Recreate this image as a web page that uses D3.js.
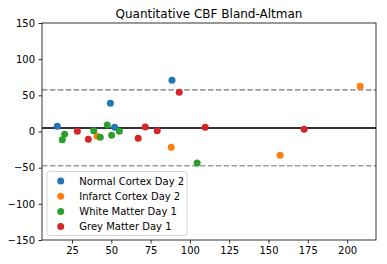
<!DOCTYPE html>
<html>
<head>
<meta charset="utf-8">
<script src="https://cdn.jsdelivr.net/npm/d3@7"></script>
<style>
  body { margin: 0; background: #fff; }
  text { font-family: "DejaVu Sans", sans-serif; }
</style>
</head>
<body>
<div id="chart"></div>
<script>
// series: [mean, difference]
const normalCortex = [[15.6, 7.2], [49.4, 39], [52.1, 5.8], [88.6, 71]]
const infarctCortex = [[41.0, -6.6], [88.1, -21.8], [157.4, -32.9], [208.3, 62.5]]
const whiteMatter = [[18.8, -11.3], [20.3, -3.9], [38.8, 1.1], [43.0, -8.0], [47.4, 9.0], [50.2, -5.3], [55.1, 0.3], [104.6, -43.6]]
const greyMatter = [[28.4, 0.3], [35.4, -10.8], [67.1, -9.4], [71.6, 6.2], [79.2, 1.1], [93.2, 54.2], [109.7, 5.8], [172.7, 3.0]]

const seriesNames = ["Normal Cortex Day 2", "Infarct Cortex Day 2", "White Matter Day 1", "Grey Matter Day 1"]
const colors = ["#1f77b4", "#ff7f0e", "#2ca02c", "#d62728"]

const meanDiff = 5
const upperLimit = 57.6
const lowerLimit = -47.4

const xTicks = [25, 50, 75, 100, 125, 150, 175, 200]
const yTicks = [-150, -100, -50, 0, 50, 100, 150]

const W = 387, H = 264
const margin = { top: 23, right: 11, bottom: 24, left: 42 }
const width = W - margin.left - margin.right,
    height = H - margin.top - margin.bottom

const svg = d3.select("#chart").append("svg")
    .attr("width", W)
    .attr("height", H)

const g = svg.append("g")
    .attr("transform", `translate(${margin.left}, ${margin.top})`)

let x = d3.scaleLinear().domain([5.9, 218.4]).range([0, width])
let y = d3.scaleLinear().domain([-150, 150]).range([height, 0])

const minus = s => s.replace("-", "\u2212")

/* axes */
const xAxis = g.append("g")
    .attr("transform", `translate(0, ${height})`)
    .call(d3.axisBottom(x).tickValues(xTicks).tickSize(3.5).tickPadding(3.5).tickFormat(d3.format("d")))
const yAxis = g.append("g")
    .call(d3.axisLeft(y).tickValues(yTicks).tickSize(3.5).tickPadding(3.5).tickFormat(d => minus(String(d))))

;[xAxis, yAxis].forEach(a => {
    a.select(".domain").remove()
    a.selectAll("line").attr("stroke", "#000").attr("stroke-width", 0.8)
    a.selectAll("text").attr("font-size", 10).attr("fill", "#000").attr("font-family", "DejaVu Sans")
})

/* reference lines */
g.append("line")
    .attr("x1", 0).attr("x2", width)
    .attr("y1", y(meanDiff)).attr("y2", y(meanDiff))
    .attr("stroke", "#333").attr("stroke-width", 2)
;[upperLimit, lowerLimit].forEach(v => {
    g.append("line")
        .attr("x1", 0).attr("x2", width)
        .attr("y1", y(v)).attr("y2", y(v))
        .attr("stroke", "#9e9e9e").attr("stroke-width", 1.6)
        .attr("stroke-dasharray", "5.5,2.4")
})

/* points */
const allSeries = [normalCortex, infarctCortex, whiteMatter, greyMatter]
allSeries.forEach((s, i) => {
    g.selectAll(null)
        .data(s)
        .enter()
        .append("circle")
        .attr("cx", d => x(d[0]))
        .attr("cy", d => y(d[1]))
        .attr("r", 3.5)
        .attr("fill", colors[i])
})

/* frame */
g.append("rect")
    .attr("width", width).attr("height", height)
    .attr("fill", "none").attr("stroke", "#000").attr("stroke-width", 0.8)

/* title */
svg.append("text")
    .attr("x", margin.left + width / 2)
    .attr("y", 18)
    .attr("text-anchor", "middle")
    .attr("font-size", 12)
    .text("Quantitative CBF Bland-Altman")

/* legend */
const legend = g.append("g").attr("transform", "translate(5, 148.5)")
legend.append("rect")
    .attr("width", 140).attr("height", 64)
    .attr("rx", 2.5)
    .attr("fill", "#fff").attr("fill-opacity", 0.8)
    .attr("stroke", "#ccc").attr("stroke-width", 0.8)
seriesNames.forEach((name, i) => {
    const row = legend.append("g").attr("transform", `translate(0, ${9.5 + i * 15.2})`)
    row.append("circle").attr("cx", 13.7).attr("cy", 0).attr("r", 3.5).attr("fill", colors[i])
    row.append("text").attr("x", 32.3).attr("y", 3.6).attr("font-size", 10).text(name)
})
</script>
</body>
</html>
